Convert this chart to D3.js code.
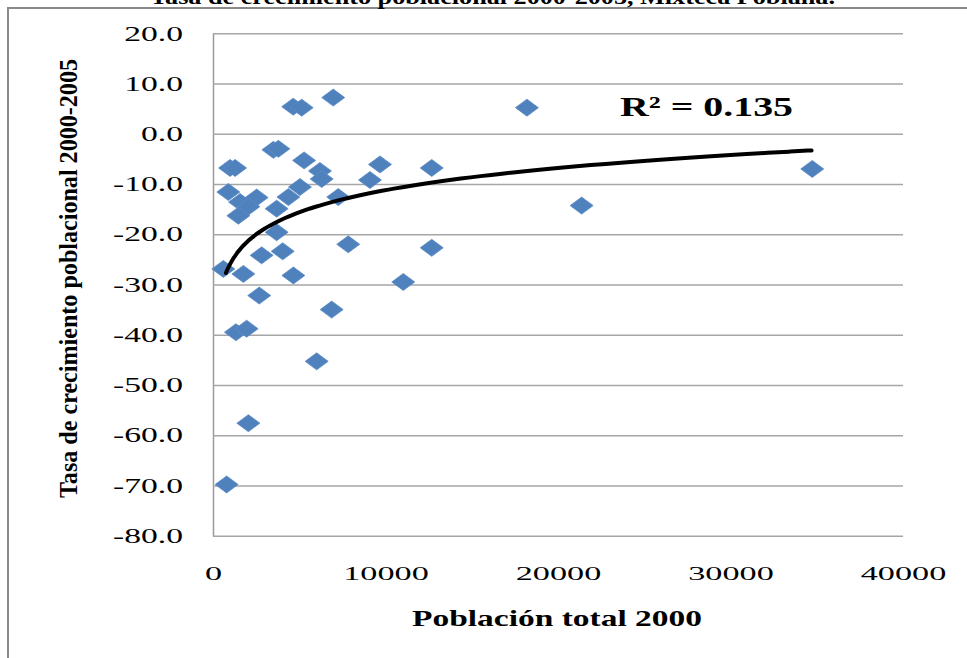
<!DOCTYPE html>
<html>
<head>
<meta charset="utf-8">
<script src="https://cdn.jsdelivr.net/npm/d3@7"></script>
<style>
	body { margin: 0; background: #fff; }
	svg { display: block; font-family: "Liberation Serif", "Times New Roman", serif; }
</style>
</head>
<body>
<div id="chart"></div>
<script>
//
// data
//
const poblacion2000 = [
	6970, 4650, 5140, 18200, 3500, 3790, 5280, 9680, 12680, 990,
	1280, 6200, 6300, 9100, 34740, 890, 5040, 4370, 2530, 1570,
	2050, 7260, 3690, 1470, 21370, 3690, 7840, 12680, 2820, 4040,
	600, 1760, 4660, 11030, 2680, 6880, 1330, 1950, 6010, 2050,
	790
];
const tasaCrecimiento = [
	7.2, 5.4, 5.2, 5.2, -3.2, -3.0, -5.3, -6.1, -6.8, -6.8,
	-6.8, -7.4, -9.0, -9.2, -7.0, -11.6, -10.6, -12.6, -12.7, -13.6,
	-14.5, -12.6, -14.9, -16.3, -14.3, -19.6, -22.0, -22.7, -24.2, -23.4,
	-26.9, -27.9, -28.2, -29.5, -32.2, -35.0, -39.5, -38.8, -45.3, -57.6,
	-69.8
];

const yTicks = [20, 10, 0, -10, -20, -30, -40, -50, -60, -70, -80];
const xTicks = [0, 10000, 20000, 30000, 40000];

// logarithmic trend line y = a ln(x) + b
const trendA = 6.36;
const trendB = -69.8;
const trendRange = [750, 34700];
const r2Label = 'R² = 0.135';

const titleText = 'Tasa de crecimiento poblacional 2000-2005, Mixteca Poblana.';
const xTitle = 'Población total 2000';
const yTitle = 'Tasa de crecimiento poblacional 2000-2005';

//
//
//
const width = 967;
const height = 658;
const plot = { left: 213, right: 903, top: 33.3, bottom: 535.7 };

const svg = d3.select('#chart').append('svg')
	.attr('width', width)
	.attr('height', height);

svg.append('rect')
	.attr('width', width)
	.attr('height', height)
	.attr('fill', '#fff');

// outer frame (only left and top edges are visible)
svg.append('rect')
	.attr('x', 8)
	.attr('y', 8)
	.attr('width', 1000)
	.attr('height', 700)
	.attr('fill', 'none')
	.attr('stroke', '#8a8a8a')
	.attr('stroke-width', 2);

// title, cut off at the top
svg.append('text')
	.attr('x', 150)
	.attr('y', 4)
	.attr('textLength', 685)
	.attr('lengthAdjust', 'spacingAndGlyphs')
	.style('font-size', '22px')
	.style('font-weight', 'bold')
	.text(titleText);

//
// scales
//
const x = d3.scaleLinear()
	.domain([0, 40000])
	.range([plot.left, plot.right]);

const y = d3.scaleLinear()
	.domain([-80, 20])
	.range([plot.bottom, plot.top]);

//
// y axis with gridlines
//
const yAxis = svg.append('g')
	.attr('transform', `translate(${plot.left},0)`)
	.call(d3.axisLeft(y)
		.tickValues(yTicks)
		.tickSize(-(plot.right - plot.left))
		.tickSizeOuter(0)
		.tickFormat(d => d.toFixed(1)));

yAxis.select('.domain')
	.attr('stroke', '#9a9a9a')
	.attr('stroke-width', 1.5);

yAxis.selectAll('.tick line')
	.attr('stroke', '#a6a6a6')
	.attr('stroke-width', 1.5);

yAxis.selectAll('.tick text')
	.attr('x', 0)
	.attr('transform', 'translate(-30,0) scale(1.6,1)')
	.attr('fill', '#000')
	.style('font-size', '21px')
	.style('font-family', '"Liberation Serif", serif');

//
// x axis labels
//
const xAxis = svg.append('g')
	.attr('transform', `translate(0,${plot.bottom})`)
	.call(d3.axisBottom(x)
		.tickValues(xTicks)
		.tickSize(0)
		.tickFormat(d => String(d)));

xAxis.select('.domain').remove();

xAxis.selectAll('.tick text')
	.attr('y', 0)
	.attr('dy', 0)
	.attr('transform', 'translate(0,44) scale(1.8,1)')
	.attr('fill', '#000')
	.style('font-size', '19px')
	.style('font-family', '"Liberation Serif", serif');

//
// axis titles
//
svg.append('text')
	.attr('x', 412)
	.attr('y', 626)
	.attr('textLength', 290)
	.attr('lengthAdjust', 'spacingAndGlyphs')
	.style('font-size', '23px')
	.style('font-weight', 'bold')
	.text(xTitle);

svg.append('text')
	.attr('transform', 'translate(77,278.5) rotate(-90)')
	.attr('x', -219.5)
	.attr('y', 0)
	.attr('textLength', 439)
	.attr('lengthAdjust', 'spacingAndGlyphs')
	.style('font-size', '25px')
	.style('font-weight', 'bold')
	.text(yTitle);

//
// points
//
const points = poblacion2000.map((p, i) => ({ p: p, t: tasaCrecimiento[i] }));

svg.append('g')
	.selectAll('path')
	.data(points)
	.enter()
	.append('path')
	.attr('transform', d => `translate(${x(d.p)},${y(d.t)})`)
	.attr('d', 'M0,-8.5L11.5,0L0,8.5L-11.5,0Z')
	.attr('fill', '#4f81bd')
	.attr('stroke', '#5b8bc6')
	.attr('stroke-width', 0.8);

//
// trend line
//
const trendX = d3.range(0, 101).map(i => trendRange[0] * Math.pow(trendRange[1] / trendRange[0], i / 100));

svg.append('path')
	.datum(trendX)
	.attr('d', d3.line()
		.x(d => x(d))
		.y(d => y(trendA * Math.log(d) + trendB))
		.curve(d3.curveBasis))
	.attr('fill', 'none')
	.attr('stroke', '#000')
	.attr('stroke-width', 4)
	.attr('stroke-linecap', 'round');

svg.append('text')
	.attr('x', 620)
	.attr('y', 116)
	.attr('textLength', 173)
	.attr('lengthAdjust', 'spacingAndGlyphs')
	.style('font-size', '28px')
	.style('font-weight', 'bold')
	.text(r2Label);
</script>
</body>
</html>
